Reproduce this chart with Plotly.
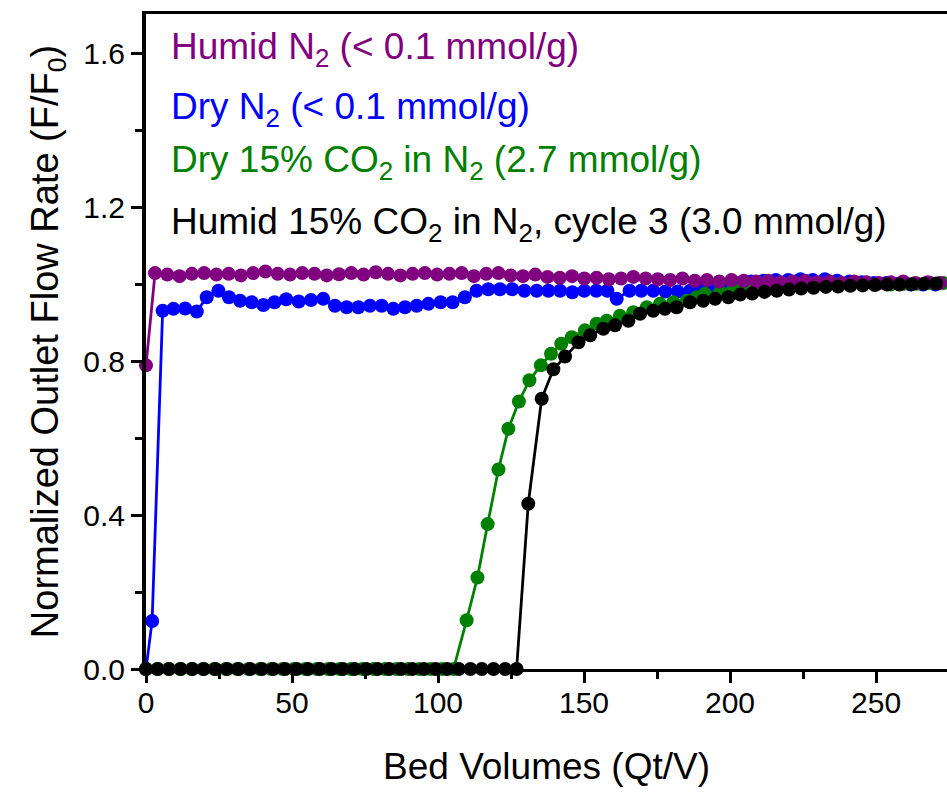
import plotly.graph_objects as go

# ---------------- data ----------------
humid_n2_x = [0, 3.1, 7.3, 11.5, 15.7, 19.9, 24.1, 28.3, 32.5, 36.7, 40.9, 45.1, 49.3, 53.5, 57.7,
              61.9, 66.1, 70.3, 74.5, 78.7, 82.9, 87.1, 91.3, 95.5, 99.7, 103.9, 108.1, 112.3, 116.5,
              120.7, 124.9, 129.1, 133.3, 137.5, 141.7, 145.9, 150.1, 154.3, 158.5, 162.7, 166.9,
              171.1, 175.3, 179.5, 183.7, 187.9, 192.1, 196.3, 200.5, 204.7, 208.9, 213.1, 217.3,
              221.5, 225.7, 229.9, 234.1, 238.3, 242.5, 246.7, 250.9, 255.1, 259.3, 263.5, 267.7, 271.9]
humid_n2_y = [0.79, 1.030, 1.026, 1.022, 1.028, 1.030, 1.026, 1.028, 1.024, 1.030, 1.034, 1.028,
              1.026, 1.030, 1.028, 1.024, 1.027, 1.030, 1.026, 1.032, 1.028, 1.024, 1.028, 1.030,
              1.026, 1.028, 1.030, 1.022, 1.028, 1.030, 1.024, 1.022, 1.026, 1.020, 1.018, 1.022,
              1.016, 1.018, 1.014, 1.016, 1.020, 1.016, 1.014, 1.012, 1.016, 1.010, 1.012, 1.008,
              1.012, 1.010, 1.008, 1.010, 1.006, 1.008, 1.010, 1.006, 1.008, 1.004, 1.008, 1.006,
              1.004, 1.006, 1.008, 1.004, 1.006, 1.004]

dry_n2_x = [0, 2.1, 5.7, 9.4, 13.4, 17.4, 20.8, 24.8, 28.4, 32.2, 36.2, 40.2, 44.0, 48.0, 52.3,
            56.5, 60.7, 64.7, 68.7, 72.7, 76.7, 80.7, 84.7, 88.7, 92.7, 96.7, 100.9, 105.0, 109.2,
            113.2, 117.2, 121.2, 125.4, 129.6, 133.8, 137.8, 141.8, 146.0, 150.1, 154.2, 158.0,
            161.2, 165.6, 169.6, 173.7, 177.9, 182.1, 186.3, 190.5, 194.7, 198.9, 203.1, 207.3,
            211.5, 215.7, 219.9, 224.1, 228.3, 232.5, 236.7, 240.9, 245.1, 249.3, 253.5, 257.7,
            261.9, 266.1, 270.3]
dry_n2_y = [0, 0.125, 0.932, 0.937, 0.938, 0.930, 0.967, 0.984, 0.967, 0.958, 0.954, 0.947, 0.954,
            0.962, 0.956, 0.960, 0.963, 0.945, 0.941, 0.941, 0.945, 0.945, 0.937, 0.941, 0.945,
            0.950, 0.954, 0.954, 0.967, 0.984, 0.988, 0.988, 0.988, 0.984, 0.984, 0.984, 0.984,
            0.980, 0.984, 0.984, 0.984, 0.963, 0.984, 0.984, 0.984, 0.982, 0.982, 0.984, 0.990,
            0.996, 1.000, 1.004, 1.008, 1.010, 1.012, 1.012, 1.014, 1.012, 1.014, 1.010, 1.008,
            1.006, 1.004, 1.004, 1.002, 1.000, 1.000, 1.000]

dry_co2_x = [0, 3.9, 7.8, 11.7, 15.6, 19.5, 23.4, 27.3, 31.2, 35.1, 39.0, 42.9, 46.8, 50.7, 54.6,
             58.5, 62.4, 66.3, 70.2, 74.1, 78.0, 81.9, 85.8, 89.7, 93.6, 97.5, 101.4, 105.3,
             109.8, 113.5, 117.0, 120.7, 124.1, 127.7, 131.3, 135.2, 138.7, 142.2, 145.8, 150.3,
             154.3, 157.8, 162.3, 166.9, 171.5, 176.0, 180.6, 185.2, 188.6, 191.4, 196.6, 201.1,
             205.5, 210.0, 214.5, 219.0, 223.5, 228.0, 232.5, 237.0, 241.5, 246.0, 250.5, 255.0,
             259.5, 264.0, 268.5, 273.0]
dry_co2_y = [0, 0, 0, 0, 0, 0, 0, 0, 0, 0, 0, 0, 0, 0, 0, 0, 0, 0, 0, 0, 0, 0, 0, 0, 0, 0, 0, 0,
             0.127, 0.238, 0.377, 0.519, 0.625, 0.696, 0.751, 0.790, 0.820, 0.846, 0.863, 0.881,
             0.898, 0.906, 0.919, 0.928, 0.941, 0.950, 0.954, 0.958, 0.967, 0.976, 0.980, 0.989,
             0.992, 0.994, 0.996, 0.996, 0.998, 0.998, 1.000, 1.000, 1.000, 1.002, 1.002, 1.000,
             1.002, 1.002, 1.004, 1.004]

humid_co2_x = [0, 4.0, 7.9, 11.9, 15.9, 19.8, 23.8, 27.8, 31.7, 35.7, 39.7, 43.6, 47.6, 51.6, 55.5,
               59.5, 63.5, 67.4, 71.4, 75.4, 79.3, 83.3, 87.3, 91.2, 95.2, 99.2, 103.1, 107.1,
               111.1, 115.0, 119.0, 123.0, 126.9,
               130.9, 135.5, 139.5, 143.5, 148.1, 152.1, 156.6, 160.6, 165.2, 169.2, 173.7, 177.7,
               181.7, 186.3, 190.8, 194.9, 199.4, 203.5, 207.6, 211.8, 216.0, 220.2, 224.4, 228.6,
               232.8, 237.0, 241.2, 245.4, 249.6, 253.8, 258.0, 262.2, 266.4, 270.6]
humid_co2_y = [0, 0, 0, 0, 0, 0, 0, 0, 0, 0, 0, 0, 0, 0, 0, 0, 0, 0, 0, 0, 0, 0, 0, 0, 0, 0, 0, 0,
               0, 0, 0, 0, 0,
               0.430, 0.703, 0.780, 0.813, 0.850, 0.868, 0.885, 0.894, 0.906, 0.924, 0.932, 0.937,
               0.941, 0.954, 0.958, 0.963, 0.967, 0.974, 0.977, 0.981, 0.984, 0.987, 0.990, 0.992,
               0.994, 0.995, 0.997, 0.998, 0.999, 1.000, 1.000, 1.001, 1.002, 1.003]

labels = ["Humid N<sub>2</sub> (< 0.1 mmol/g)",
          "Dry N<sub>2</sub> (< 0.1 mmol/g)",
          "Dry 15% CO<sub>2</sub> in N<sub>2</sub> (2.7 mmol/g)",
          "Humid 15% CO<sub>2</sub> in N<sub>2</sub>, cycle 3 (3.0 mmol/g)"]
label_y = [1.612, 1.458, 1.318, 1.158]

PURPLE = "#800080"
BLUE = "#0000FF"
GREEN = "#008000"
BLACK = "#000000"
label_colors = [PURPLE, BLUE, GREEN, BLACK]

FONT = "Liberation Sans, Arial, sans-serif"

fig = go.Figure()

def add(x, y, color):
    fig.add_trace(go.Scatter(
        x=x, y=y, mode="lines+markers",
        line=dict(color=color, width=2.8),
        marker=dict(color=color, size=14, line=dict(width=0)),
        cliponaxis=False, showlegend=False))

add(dry_n2_x, dry_n2_y, BLUE)
add(dry_co2_x, dry_co2_y, GREEN)
add(humid_n2_x, humid_n2_y, PURPLE)
add(humid_co2_x, humid_co2_y, BLACK)

for txt, yy, c in zip(labels, label_y, label_colors):
    fig.add_annotation(x=8.0, y=yy, xref="x", yref="y", text=txt, showarrow=False,
                       xanchor="left", yanchor="middle",
                       font=dict(family=FONT, size=37, color=c))

fig.update_layout(
    width=947, height=800,
    margin=dict(l=146, r=0, t=14, b=131),
    paper_bgcolor="white", plot_bgcolor="white",
    font=dict(family=FONT, color="black"),
)

fig.update_xaxes(
    range=[0, 274.3], dtick=50, tick0=0,
    showgrid=False, zeroline=False,
    showline=True, linecolor="black", linewidth=3, mirror=True,
    ticks="outside", ticklen=11, tickwidth=3, tickcolor="black",
    minor=dict(dtick=25, ticks="outside", ticklen=7, tickwidth=3, tickcolor="black"),
    tickfont=dict(family=FONT, size=30, color="black"),
    ticklabelstandoff=-6,
    title=dict(text="Bed Volumes (Qt/V)", font=dict(family=FONT, size=37, color="black"), standoff=36),
)
fig.update_yaxes(
    range=[0, 1.704], dtick=0.4, tick0=0, tickformat=".1f",
    showgrid=False, zeroline=False,
    showline=True, linecolor="black", linewidth=4, mirror=False,
    ticks="outside", ticklen=11, tickwidth=3, tickcolor="black",
    minor=dict(dtick=0.2, ticks="outside", ticklen=7, tickwidth=3, tickcolor="black"),
    tickfont=dict(family=FONT, size=30, color="black"),
    title=dict(text="Normalized Outlet Flow Rate (F/F<sub>0</sub>)",
               font=dict(family=FONT, size=38, color="black"), standoff=14),
)

fig.write_html("out.html")
